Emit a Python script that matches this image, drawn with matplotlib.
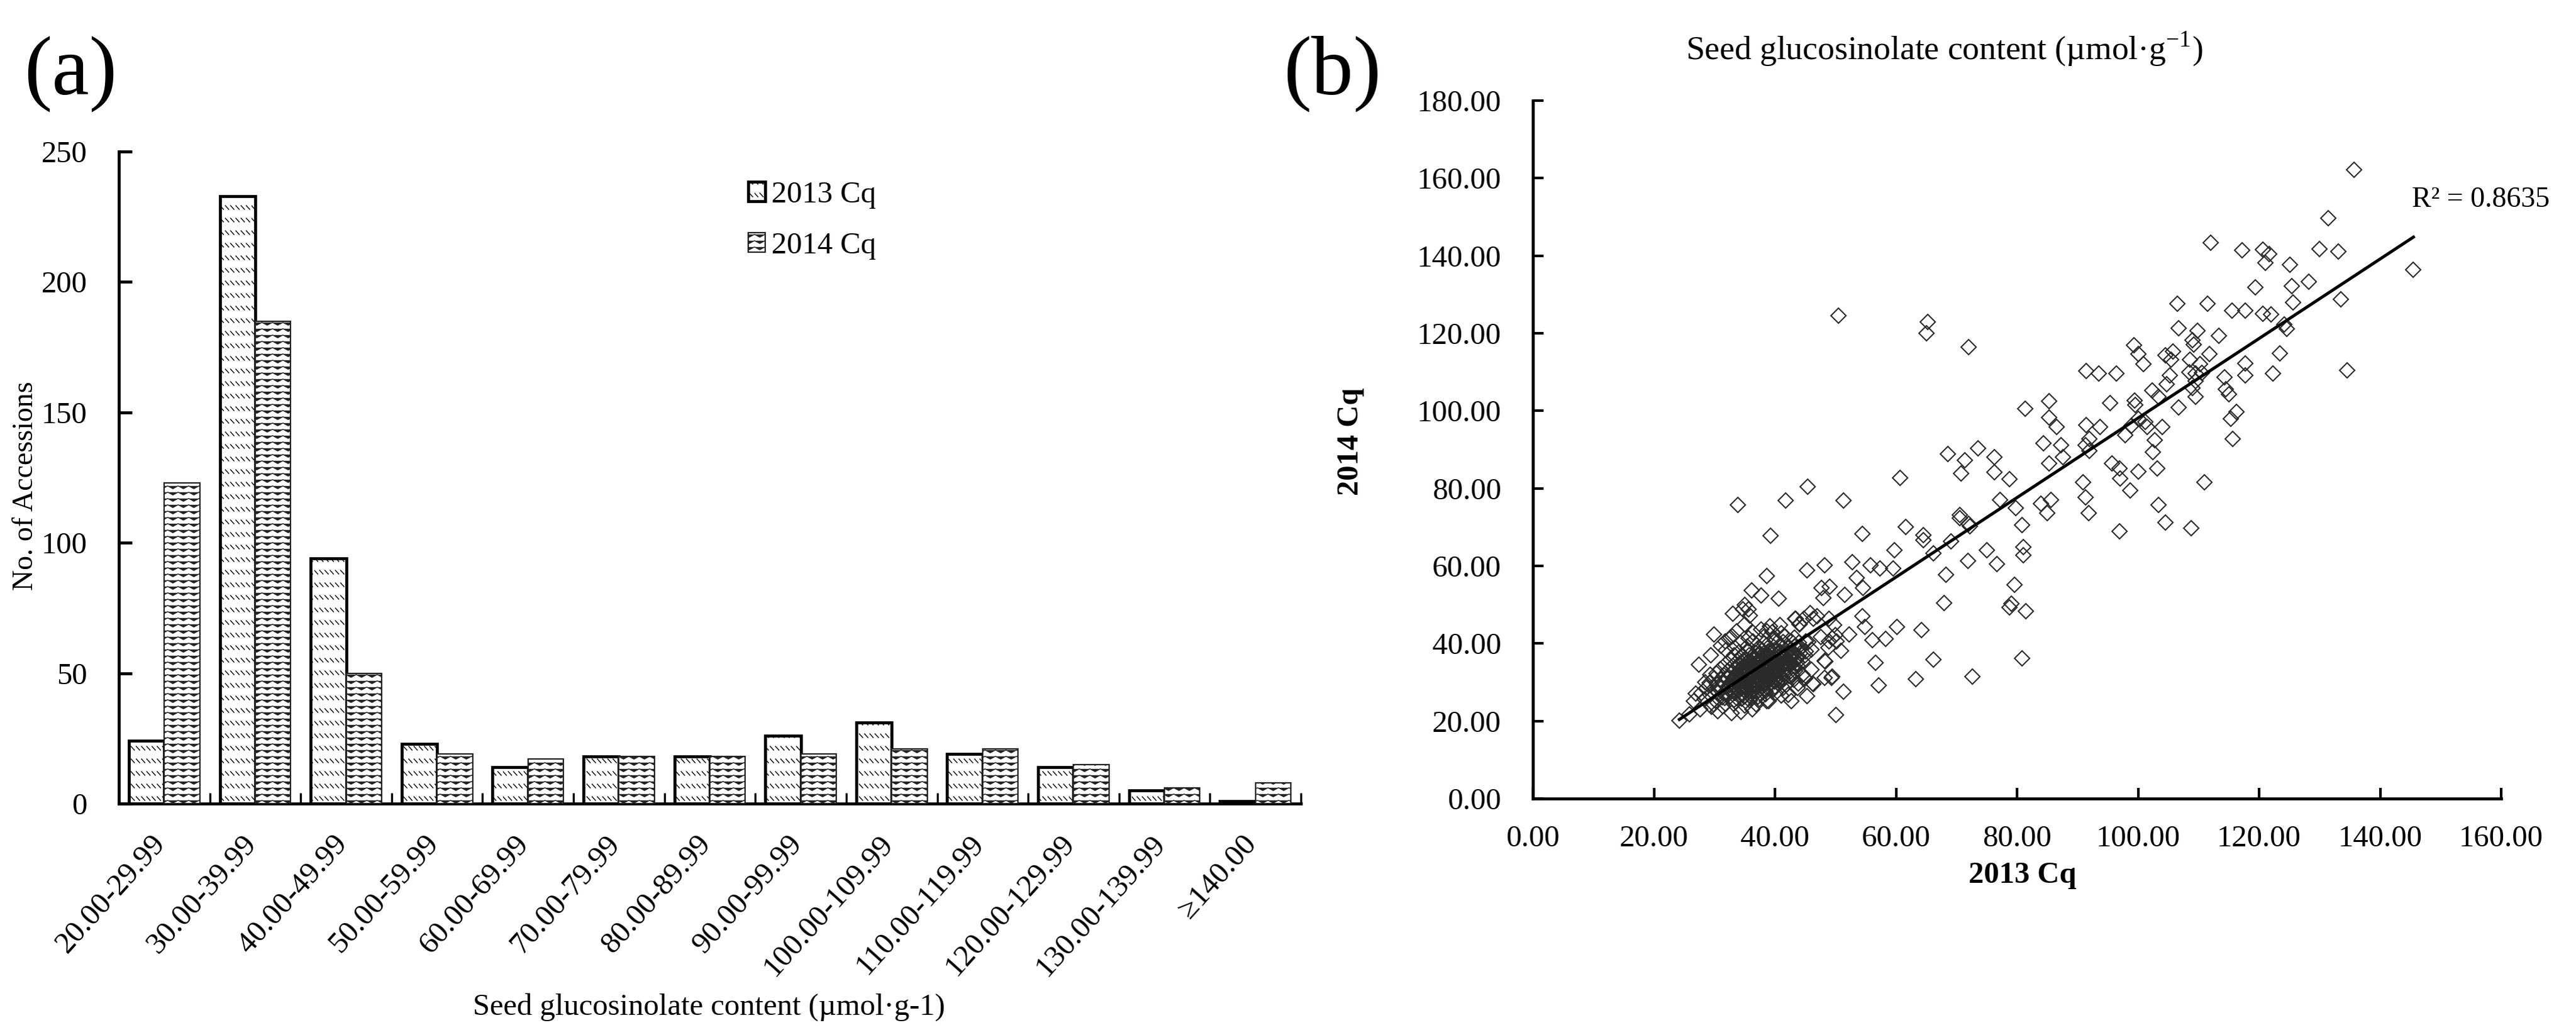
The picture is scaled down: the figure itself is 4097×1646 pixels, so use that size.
#!/usr/bin/env python3
import numpy as np
import matplotlib
matplotlib.use("Agg")
import matplotlib.pyplot as plt
import matplotlib.hatch as mhatch
from matplotlib.path import Path
from matplotlib.transforms import ScaledTranslation

plt.rcParams['font.family'] = ['Liberation Serif', 'DejaVu Sans']

# panel (a) histogram counts
bins = ["20.00-29.99", "30.00-39.99", "40.00-49.99", "50.00-59.99", "60.00-69.99",
        "70.00-79.99", "80.00-89.99", "90.00-99.99", "100.00-109.99", "110.00-119.99",
        "120.00-129.99", "130.00-139.99", "≥140.00"]
count_2013 = [24, 233, 94, 23, 14, 18, 18, 26, 31, 19, 14, 5, 1]
count_2014 = [123, 185, 50, 19, 17, 18, 18, 19, 21, 21, 15, 6, 8]

# panel (b) points: upper scatter
upper_x = [135.7, 131.4, 145.5, 112.0, 117.2, 120.6, 121.7, 121.0, 125.1, 130.0, 133.1, 128.2,
           125.4, 119.4, 125.6, 133.5, 106.5, 111.5, 115.5, 117.7, 120.6, 122.0, 124.2, 124.6,
           106.7, 109.8, 113.4, 109.0, 109.2, 99.3, 100.0, 100.9, 105.8, 104.5, 105.5, 111.8,
           108.6, 110.2, 117.7, 123.4, 122.3, 134.5, 117.7, 114.3, 91.4, 93.5, 96.4, 105.2,
           108.5, 109.5, 110.5, 104.7, 109.5, 109.0, 102.3, 103.4, 109.5, 114.5, 115.0, 85.3,
           81.3, 95.4, 99.4, 99.5, 106.7, 116.3, 115.3, 85.3, 86.5, 91.4, 93.7, 100.0,
           98.9, 101.2, 101.5, 97.9, 104.0, 102.8, 115.6, 84.4, 87.3, 91.9, 91.3, 91.9,
           102.4, 73.6, 68.6, 71.4, 76.3, 87.6, 85.3, 70.8, 76.3, 78.8, 60.7, 95.7,
           96.9, 100.0, 103.2, 97.0, 90.9, 111.0, 98.7, 77.2, 79.8, 85.6, 83.9, 85.0,
           91.3, 91.8, 103.4, 104.5, 108.8, 70.5, 72.0, 80.8, 61.6, 96.9, 65.0, 65.2, 72.0,
           50.5, 64.5]
upper_y = [162.2, 149.6, 136.4, 143.4, 141.4, 141.6, 140.5, 138.1, 137.6, 141.8, 141.1, 133.3,
           132.2, 131.8, 127.9, 128.7, 127.6, 127.7, 125.9, 125.9, 125.1, 124.8, 122.2, 121.1,
           121.3, 120.6, 119.4, 118.2, 117.1, 116.9, 114.6, 112.1, 115.3, 114.4, 113.2, 114.6,
           113.2, 112.1, 112.2, 114.8, 109.7, 110.5, 109.2, 108.7, 110.2, 109.7, 109.7, 109.1,
           110.0, 109.7, 109.8, 106.8, 107.7, 105.9, 105.3, 103.7, 103.7, 105.5, 104.2, 102.5,
           100.6, 102.0, 102.6, 101.5, 100.8, 99.7, 97.9, 98.3, 95.8, 96.3, 95.8, 97.9,
           96.1, 97.2, 95.8, 93.8, 95.8, 92.5, 92.8, 91.6, 91.2, 92.7, 91.2, 89.6,
           89.4, 90.4, 88.8, 87.3, 88.0, 88.0, 86.5, 83.8, 84.2, 82.4, 82.7, 86.4,
           85.2, 84.3, 85.2, 82.5, 81.5, 81.5, 79.5, 77.0, 74.9, 77.0, 76.0, 73.7,
           77.7, 73.7, 75.7, 71.2, 69.8, 73.1, 70.8, 70.5, 70.1, 69.0, 120.0, 122.9, 116.4,
           124.6, 67.9]

# middle scatter, around the end of the dense cloud
middle_x = [54.4, 64.5, 59.7, 45.3, 48.2, 52.8, 55.8, 57.3, 59.5, 53.5, 54.5, 47.7, 49.0, 48.0,
            51.5, 66.2, 69.1, 72.2, 70.5, 81.0, 81.0, 75.0, 71.9, 76.7, 68.3, 79.6, 67.9, 79.1,
            78.8, 81.5, 54.4, 54.9, 60.2, 64.2, 56.1, 58.3, 52.3, 50.9, 56.6, 66.2, 80.8, 63.3,
            72.6, 57.1, 51.3, 50.1, 49.5, 45.3, 46.2, 48.3, 46.0, 48.9, 50.0, 49.5, 50.2, 48.8,
            49.8, 48.9, 47.0, 45.8, 46.3, 44.8, 44.1, 43.4, 47.6, 33.9, 41.8, 45.4, 51.3, 39.3,
            38.6, 36.2, 37.7, 40.6, 33.0, 35.0, 35.6, 34.7, 35.8, 35.0, 29.9, 32.6, 37.7, 39.2,
            40.8, 43.3, 44.1, 29.4, 27.4, 39.6]
middle_y = [68.2, 66.6, 64.0, 58.9, 60.1, 61.0, 60.1, 59.3, 59.4, 57.0, 54.3, 54.4, 54.7, 51.8,
            52.5, 63.2, 66.3, 70.2, 72.3, 64.8, 62.8, 64.0, 61.3, 60.5, 57.8, 55.1, 50.5, 50.3,
            49.3, 48.3, 47.0, 44.2, 44.3, 43.5, 40.8, 41.2, 42.3, 38.1, 35.0, 35.8, 36.2, 30.8,
            31.5, 29.2, 27.6, 21.5, 31.5, 26.4, 29.7, 35.4, 38.4, 40.5, 42.1, 41.3, 40.5, 38.9,
            44.8, 46.4, 47.0, 47.8, 46.4, 46.4, 45.1, 46.4, 41.6, 75.8, 76.9, 80.4, 76.9, 67.8,
            57.4, 53.6, 52.4, 51.6, 47.7, 49.9, 48.8, 48.8, 47.2, 45.0, 42.3, 41.5, 43.7, 44.5,
            44.8, 46.4, 45.0, 37.0, 34.5, 42.9]

# dense cloud
cloud_x = [24.2, 25.9, 27.6, 26.6, 26.9, 29.5, 30.5, 32.8, 34.4, 36.3, 38.7, 41.0, 42.7, 46.3, 43.7,
           48.2, 49.3, 48.2, 45.5, 29.3, 28.5,
           29.8, 31.4, 33.1, 35.0, 36.9,
           28.4, 30.2, 31.7, 33.2, 34.5, 35.8, 37.4, 39.0,
           27.8, 29.3, 30.6, 31.9, 33.4, 34.6, 35.9, 37.1, 38.4, 40.1, 42.2,
           28.7, 30.1, 31.2, 32.3, 33.3, 34.4, 35.3, 36.4, 37.6, 38.7, 39.8, 41.3,
           29.2, 30.4, 31.5, 32.6, 33.5, 34.5, 35.4, 36.3, 37.2, 38.1, 39.3, 40.4, 41.9, 43.8,
           29.9, 31.1, 32.2, 33.1, 34.0, 34.9, 35.8, 36.6, 37.5, 38.4, 39.2, 40.3, 41.4, 43.1, 45.0,
           30.3, 31.6, 32.7, 33.6, 34.4, 35.2, 36.1, 36.9, 37.7, 38.6, 39.5, 40.5, 41.6, 42.9, 44.6,
           31.0, 32.2, 33.3, 34.2, 35.0, 35.8, 36.5, 37.3, 38.1, 38.9, 39.8, 40.7, 41.8, 43.3, 46.0,
           31.8, 33.0, 34.0, 34.9, 35.7, 36.4, 37.1, 37.9, 38.7, 39.5, 40.4, 41.3, 42.4, 43.7,
           32.6, 33.8, 34.8, 35.6, 36.4, 37.2, 38.0, 38.8, 39.6, 40.4, 41.3, 42.3, 43.4, 44.6,
           33.2, 34.6, 35.7, 36.6, 37.4, 38.2, 39.0, 39.9, 40.8, 41.7, 42.7, 43.8, 45.0,
           31.9, 34.1, 35.6, 36.8, 37.9, 38.9, 39.9, 40.9, 41.9, 42.9, 43.9, 45.1,
           31.1, 33.4, 35.4, 37.3, 38.6, 39.8, 41.0, 42.1, 43.2, 44.3,
           31.8, 34.3, 36.4, 38.2, 40.0, 41.4, 42.7, 43.9, 45.1,
           32.9, 35.6, 38.1, 39.9, 41.7, 43.2,
           33.7, 36.4, 38.6, 41.0]
cloud_y = [20.1, 21.7, 23.1, 25.2, 27.1, 23.6, 22.5, 22.0, 22.3, 23.1, 25.2, 26.6, 25.2, 29.5, 28.5,
           31.2, 31.2, 35.5, 40.3, 32.0, 30.0,
           24.3, 23.8, 24.5, 24.0, 24.4,
           25.7, 25.2, 25.9, 25.4, 25.8, 25.3, 25.6, 25.1,
           27.2, 26.8, 27.4, 26.9, 27.3, 26.7, 27.1, 27.5, 26.9, 27.2, 26.8,
           28.6, 28.1, 28.5, 28.2, 28.7, 28.3, 28.6, 28.1, 28.4, 28.7, 28.2, 28.5,
           29.8, 29.4, 29.7, 29.3, 29.9, 29.5, 29.8, 29.4, 29.7, 29.3, 29.6, 29.9, 29.4, 29.7,
           31.0, 30.6, 30.9, 30.5, 31.1, 30.7, 31.0, 30.6, 30.9, 30.5, 31.0, 30.7, 30.9, 30.6, 31.0,
           32.2, 31.8, 32.1, 31.7, 32.3, 31.9, 32.2, 31.8, 32.1, 31.7, 32.2, 31.9, 32.1, 31.8, 32.0,
           33.4, 33.0, 33.3, 32.9, 33.5, 33.1, 33.4, 33.0, 33.3, 32.9, 33.4, 33.1, 33.3, 33.0, 33.2,
           34.6, 34.2, 34.5, 34.1, 34.7, 34.3, 34.6, 34.2, 34.5, 34.1, 34.6, 34.3, 34.5, 34.2,
           35.8, 35.4, 35.7, 35.3, 35.9, 35.5, 35.8, 35.4, 35.7, 35.3, 35.8, 35.5, 35.7, 35.4,
           37.0, 36.6, 36.9, 36.5, 37.1, 36.7, 37.0, 36.6, 36.9, 36.5, 37.0, 36.7, 36.9,
           38.2, 37.8, 38.1, 37.7, 38.3, 37.9, 38.2, 37.8, 38.1, 37.7, 38.2, 37.9,
           39.4, 39.0, 39.3, 38.9, 39.5, 39.1, 39.4, 39.0, 39.3, 38.9,
           40.6, 40.2, 40.5, 40.1, 40.7, 40.3, 40.6, 40.2, 40.5,
           41.8, 41.4, 41.7, 41.3, 41.9, 41.5,
           43.2, 42.8, 43.1, 42.7]

# core of the cloud, where the markers merge to black
core_x = [31.3, 32.5, 33.7, 34.9, 36.1, 37.2,
          31.9, 33.0, 34.0, 35.1, 36.2, 37.3, 38.4,
          32.3, 33.2, 34.2, 35.1, 36.0, 36.9, 37.9, 38.9, 40.0,
          32.8, 33.8, 34.6, 35.5, 36.3, 37.2, 38.0, 38.9, 39.9, 40.9,
          33.4, 34.3, 35.1, 35.9, 36.7, 37.5, 38.3, 39.2, 40.1, 41.1, 42.3,
          34.0, 34.8, 35.6, 36.3, 37.1, 37.9, 38.7, 39.5, 40.4, 41.4, 42.5,
          34.6, 35.4, 36.1, 36.9, 37.7, 38.5, 39.4, 40.2, 41.1, 42.1, 43.2,
          35.4, 36.3, 37.2, 38.1, 39.0, 39.9, 40.8, 41.7, 42.6, 43.6,
          36.6, 37.6, 38.6, 39.6, 40.6, 41.6, 42.6, 43.6,
          38.1, 39.3, 40.5, 41.8, 43.0, 44.2]
core_y = [26.1, 26.3, 26.0, 26.2, 26.1, 26.3,
          27.6, 27.9, 27.7, 27.8, 27.6, 27.9, 27.7,
          29.0, 29.2, 29.0, 29.1, 28.9, 29.2, 29.0, 29.1, 28.9,
          30.2, 30.0, 30.3, 30.1, 30.2, 30.0, 30.3, 30.1, 30.2, 30.0,
          31.5, 31.3, 31.6, 31.4, 31.5, 31.3, 31.6, 31.4, 31.5, 31.3, 31.6,
          32.7, 32.5, 32.8, 32.6, 32.7, 32.5, 32.8, 32.6, 32.7, 32.5, 32.8,
          33.9, 33.7, 34.0, 33.8, 33.9, 33.7, 34.0, 33.8, 33.9, 33.7, 34.0,
          35.2, 35.0, 35.2, 35.0, 35.2, 35.0, 35.2, 35.0, 35.2, 35.0,
          36.3, 36.2, 36.3, 36.2, 36.3, 36.2, 36.3, 36.2,
          37.5, 37.4, 37.5, 37.4, 37.5, 37.4]

trend_x = [24.2, 145.5]
trend_y = [20.4, 144.8]


# Word-style fill patterns; the tile is one inch wide, so 100 px at dpi 100
class DashRows(mhatch.HatchPatternBase):
    def __init__(self, hatch, density):
        self.num_vertices = 2 * 5 * 12 if '\\' in hatch else 0

    def set_vertices_and_codes(self, vertices, codes):
        i = 0
        for row in range(5):
            for col in range(12):
                x0 = col / 12
                y0 = (row + 0.5) / 5
                vertices[i] = (x0, y0 + 0.03)
                vertices[i + 1] = (x0 + 0.055, y0 - 0.03)
                codes[i] = Path.MOVETO
                codes[i + 1] = Path.LINETO
                i += 2


class ZigZag(mhatch.HatchPatternBase):
    def __init__(self, hatch, density):
        self.num_vertices = 10 * 13 if 'x' in hatch else 0

    def set_vertices_and_codes(self, vertices, codes):
        i = 0
        for row in range(10):
            for k in range(13):
                vertices[i] = (k / 12, (row + 0.5 + 0.22 * (-1) ** k) / 10)
                codes[i] = Path.MOVETO if k == 0 else Path.LINETO
                i += 1


mhatch._hatch_types = [DashRows, ZigZag]
plt.rcParams['hatch.linewidth'] = 1.0

W, H = 4097, 1646


def axes_px(left, right, top, bottom):
    return fig.add_axes([left / W, 1 - bottom / H, (right - left) / W, (bottom - top) / H])


fig = plt.figure(figsize=(W / 100, H / 100), dpi=100)

# ---- panel (a)
ax = axes_px(189, 2069, 241, 1278)
pos = np.arange(len(bins))
width = 0.39
ax.bar(pos - width / 2, count_2013, width, color='white', edgecolor='black', linewidth=3.4,
       hatch='\\', label='2013 Cq', zorder=2)
ax.bar(pos + width / 2, count_2014, width, color='white', edgecolor='#222222', linewidth=1.6,
       hatch='x', label='2014 Cq', zorder=3)
ax.set_xlim(-0.5, len(bins) - 0.5)
ax.set_ylim(0, 250)
ax.set_yticks(range(0, 251, 50))
ax.set_xticks(np.arange(len(bins) + 1) - 0.5)
ax.set_xticklabels([])
ax.set_xticks(pos, bins, minor=True, rotation=48, ha='right', rotation_mode='anchor')
ax.tick_params(axis='x', which='minor', length=0, labelsize=35, pad=30)
ax.tick_params(axis='x', which='major', direction='in', length=12, width=2.4)
ax.tick_params(axis='y', direction='in', length=15, width=3.4, labelsize=35, pad=36)
shift = ScaledTranslation(-0.22, 0, fig.dpi_scale_trans)
for t in ax.get_xticklabels(minor=True):
    t.set_transform(t.get_transform() + shift)
for s in ['top', 'right']:
    ax.spines[s].set_visible(False)
for s in ['left', 'bottom']:
    ax.spines[s].set_linewidth(3.4)
ax.legend(loc='upper left', bbox_to_anchor=(1190 / W, 1 - 288 / H), bbox_transform=fig.transFigure,
          frameon=False, fontsize=35, handlelength=0.56, handleheight=0.6, handletextpad=0.2,
          labelspacing=0.76, borderpad=0, borderaxespad=0)
fig.text(112 / W, 1 - 118 / H, '(a)', fontsize=96, ha='center', va='center')
fig.text(1128 / W, 1 - 1602 / H, 'Seed glucosinolate content (µmol·g-1)', fontsize=35,
         ha='center', va='center')
fig.text(41 / W, 1 - 773 / H, 'No. of Accessions', fontsize=33, rotation=90, ha='center', va='center')

# ---- panel (b)
bx = axes_px(2438, 3978, 160, 1270)
bx.plot(upper_x + middle_x + cloud_x + core_x, upper_y + middle_y + cloud_y + core_y,
        linestyle='none', marker='D', markersize=12, markerfacecolor='none',
        markeredgecolor='#2a2a2a', markeredgewidth=1.5)
bx.plot(trend_x, trend_y, color='black', linewidth=3.5)
bx.set_xlim(0, 160)
bx.set_ylim(0, 180)
bx.set_xticks(range(0, 161, 20), [f'{v:.2f}' for v in range(0, 161, 20)])
bx.set_yticks(range(0, 181, 20), [f'{v:.2f}' for v in range(0, 181, 20)])
bx.tick_params(axis='x', direction='in', length=12, width=3, labelsize=35, pad=30)
bx.tick_params(axis='y', direction='in', length=12, width=3, labelsize=35, pad=36)
for s in ['top', 'right']:
    bx.spines[s].set_visible(False)
for s in ['left', 'bottom']:
    bx.spines[s].set_linewidth(3.4)
fig.text(2119 / W, 1 - 117 / H, '(b)', fontsize=96, ha='center', va='center')
fig.text(3092 / W, 1 - 78 / H, 'Seed glucosinolate content (µmol·g$^{\\mathregular{-1}}$)', fontsize=38.5,
         ha='center', va='center')
fig.text(3217 / W, 1 - 1392 / H, '2013 Cq', fontsize=35, fontweight='bold', ha='center', va='center')
fig.text(2148 / W, 1 - 702 / H, '2014 Cq', fontsize=35, fontweight='bold', rotation=90,
         ha='center', va='center')
fig.text(3836 / W, 1 - 329 / H, 'R² = 0.8635', fontsize=33, ha='left', va='baseline')

fig.savefig('out.png', dpi=100)
